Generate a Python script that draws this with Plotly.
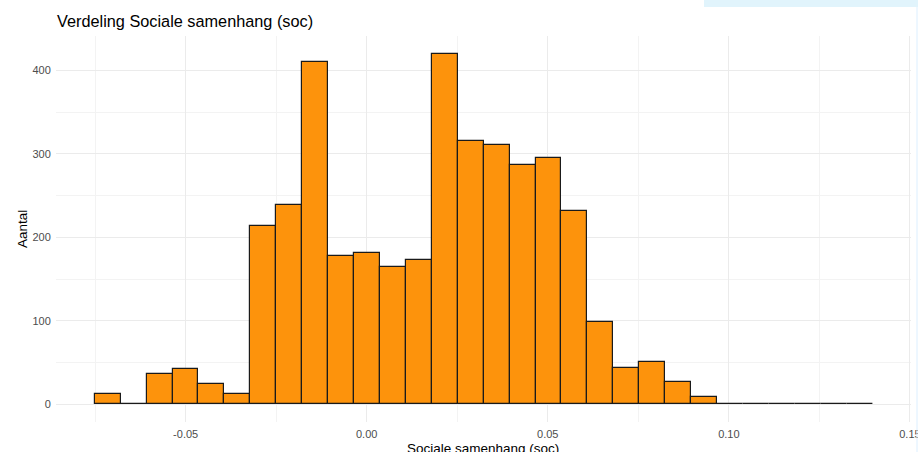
import numpy as np
import plotly.graph_objects as go

# histogram counts (30 bins)
counts = [13, 0, 37, 42, 25, 12, 213, 239, 410, 178,
          181, 164, 173, 420, 315, 310, 287, 295, 231, 99,
          44, 51, 27, 9, 0, 1, 1, 0, 0, 1]
bin_start = -0.0751
bin_width = 0.00716

x_ticks = [-0.05, 0.00, 0.05, 0.10, 0.15]
x_labels = ["-0.05", "0.00", "0.05", "0.10", "0.15"]
y_ticks = [0, 100, 200, 300, 400]

title_text = "Verdeling Sociale samenhang (soc)"
x_title = "Sociale samenhang (soc)"
y_title = "Aantal"

centers = bin_start + bin_width * (np.arange(len(counts)) + 0.5)

fig = go.Figure()
fig.add_trace(go.Bar(
    x=centers,
    y=counts,
    width=bin_width,
    marker=dict(color="#fd930c", line=dict(color="#1a1a1a", width=1.2)),
    hoverinfo="x+y",
))

grid_major = "#ebebeb"
tick_font = dict(family="Liberation Sans, Arial, sans-serif", size=11, color="#4d4d4d")

fig.update_layout(
    width=918,
    height=452,
    margin=dict(l=56, r=7, t=36, b=30),
    paper_bgcolor="white",
    plot_bgcolor="white",
    showlegend=False,
    bargap=0,
    font=dict(family="Liberation Sans, Arial, sans-serif", color="black"),
    title=dict(
        text=title_text,
        x=57 / 918, xref="container", xanchor="left",
        y=1 - 21 / 452, yref="container", yanchor="middle",
        font=dict(size=16.3, color="black"),
    ),
    xaxis=dict(
        range=[-0.0858, 0.1503],
        tickvals=x_ticks,
        ticktext=x_labels,
        tickfont=tick_font,
        ticklabeloverflow="allow",
        automargin=False,
        ticks="outside", ticklen=2, tickcolor="rgba(0,0,0,0)",
        showgrid=True, gridcolor=grid_major, gridwidth=1.1,
        minor=dict(dtick=0.025, tick0=0, showgrid=True, gridcolor="#f3f3f3", gridwidth=0.6),
        zeroline=False, showline=False,
    ),
    yaxis=dict(
        range=[-21, 441],
        tickvals=y_ticks,
        tickfont=tick_font,
        automargin=False,
        ticks="outside", ticklen=2, tickcolor="rgba(0,0,0,0)",
        showgrid=True, gridcolor=grid_major, gridwidth=1.1,
        minor=dict(dtick=50, tick0=0, showgrid=True, gridcolor="#f3f3f3", gridwidth=0.6),
        zeroline=False, showline=False,
    ),
    annotations=[
        dict(text=x_title, xref="paper", yref="paper",
             x=(483 - 56) / 855, y=-(448 - 422) / 386, xanchor="center", yanchor="middle",
             showarrow=False, font=dict(size=13.5, color="black")),
        dict(text=y_title, xref="paper", yref="paper",
             x=(22 - 56) / 855, y=0.5, xanchor="center", yanchor="middle",
             textangle=-90, showarrow=False, font=dict(size=13.5, color="black")),
    ],
    shapes=[
        # light blue strip at the top right of the screenshot
        dict(type="rect", xref="paper", yref="paper",
             x0=(704 - 56) / 855, x1=(918 - 56) / 855,
             y0=(422 - 7) / 386, y1=(422 + 2) / 386,
             fillcolor="#e1f4fc", line=dict(width=0), layer="below"),
        dict(type="line", xref="paper", yref="paper",
             x0=(917 - 56) / 855, x1=(917 - 56) / 855,
             y0=-0.1, y1=(422 - 7) / 386,
             line=dict(color="#dcefff", width=1)),
    ],
)

# page has a default 8px body margin; drop it so the figure fills the window
fig.write_html("out.html", config={"displayModeBar": False},
               post_script="document.body.style.margin='0';")
